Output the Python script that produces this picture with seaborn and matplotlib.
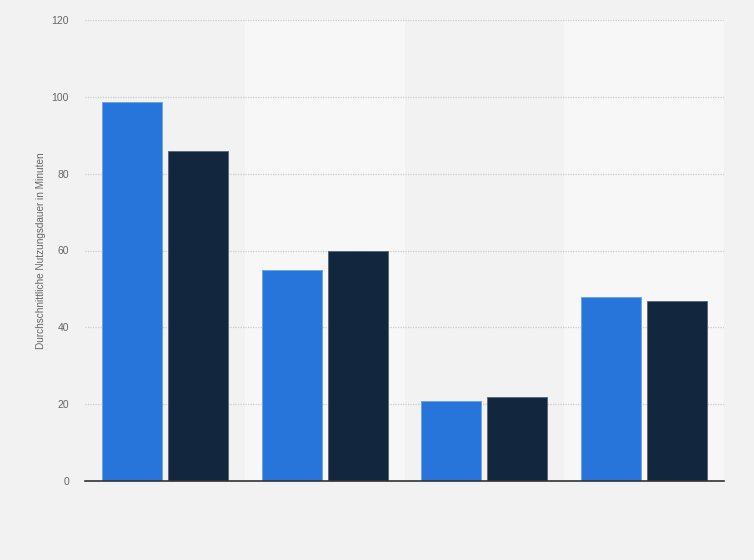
import matplotlib
matplotlib.use("Agg")
import matplotlib.pyplot as plt
import seaborn as sns
import pandas as pd

groups = ["1", "2", "3", "4"]
series_names = ["Serie A", "Serie B"]
values_a = [98.7, 55.0, 20.7, 48.0]
values_b = [85.9, 60.0, 21.8, 46.9]
colors = ["#2775db", "#12263d"]
edge_colors = ["#6fa3ee", "#5b6878"]
yticks = [0, 20, 40, 60, 80, 100, 120]
ylabel = "Durchschnittliche Nutzungsdauer in Minuten"

df = pd.DataFrame({
    "group": groups * 2,
    "series": [series_names[0]] * 4 + [series_names[1]] * 4,
    "value": values_a + values_b,
})

sns.set_theme(style="white")
plt.rcParams['font.family'] = ['Liberation Sans', 'DejaVu Sans']

fig = plt.figure(figsize=(7.54, 5.6), dpi=100, facecolor="#f2f2f2")
ax = fig.add_axes([85/754, 1 - 481/560, (724-85)/754, (481-20)/560])
ax.set_facecolor("#f2f2f2")

# alternating bands
for i in range(len(groups)):
    if i % 2 == 1:
        ax.axvspan(i - 0.5, i + 0.5, color="#f7f7f7", zorder=0, lw=0)

sns.barplot(data=df, x="group", y="value", hue="series", palette=colors,
            saturation=1, width=0.825, gap=0.09, ax=ax, legend=False,
            zorder=3, linewidth=0.7)
for k, container in enumerate(ax.containers):
    for bar in container:
        bar.set_edgecolor(edge_colors[k])

ax.set_xlim(-0.5, len(groups) - 0.5)
ax.set_ylim(0, 120)
ax.set_yticks(yticks)
ax.set_yticklabels([str(t) for t in yticks], fontsize=7.5, color="#666666")
ax.set_xticks([])
ax.set_xlabel("")
ax.set_ylabel(ylabel, fontsize=7.2, color="#666666", labelpad=4)
ax.tick_params(axis="y", length=0, pad=11.5)
ax.yaxis.grid(True, color="#cccccc", linestyle=(0, (1, 1)), linewidth=0.9, zorder=1)
ax.set_axisbelow(True)
for s in ["top", "right", "left"]:
    ax.spines[s].set_visible(False)
ax.spines["bottom"].set_color("#333333")
ax.spines["bottom"].set_linewidth(1.2)
ax.spines["bottom"].set_zorder(5)

fig.savefig("out.png", dpi=100, facecolor=fig.get_facecolor())
